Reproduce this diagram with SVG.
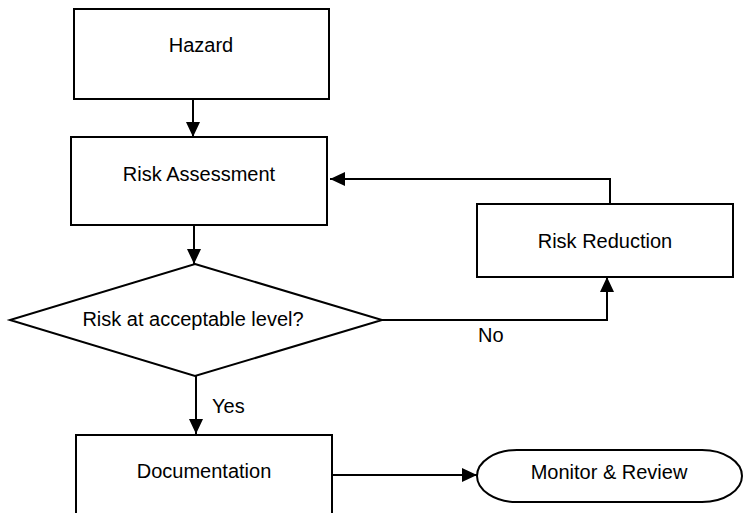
<svg xmlns="http://www.w3.org/2000/svg" width="744" height="513" viewBox="0 0 744 513">
<style>
.box{fill:#fff;stroke:#000;stroke-width:2}
.lbl{font-family:"Liberation Sans",Arial,sans-serif;font-size:20px;fill:#000;text-anchor:middle}
.edge{fill:none;stroke:#000;stroke-width:2}
.el{font-family:"Liberation Sans",Arial,sans-serif;font-size:20px;fill:#000}
</style>
<defs>
<marker id="ah" markerUnits="userSpaceOnUse" markerWidth="16" markerHeight="14" refX="15" refY="7" orient="auto">
<path d="M0,0 L15,7 L0,14 z" fill="#000"/>
</marker>
</defs>
<rect width="744" height="513" fill="#fff"/>
<g id="connectors">
<path class="edge" d="M193,99 V137" marker-end="url(#ah)"/>
<path class="edge" d="M194,225 V264" marker-end="url(#ah)"/>
<path class="edge" d="M382,320 H607 V277" marker-end="url(#ah)"/>
<path class="edge" d="M610,204 V179 H330" marker-end="url(#ah)"/>
<path class="edge" d="M196,376 V434" marker-end="url(#ah)"/>
<path class="edge" d="M332,475 H477" marker-end="url(#ah)"/>
<text class="el" x="478" y="342">No</text>
<text class="el" x="212" y="413">Yes</text>
</g>
<g id="hazard">
<rect class="box" x="74" y="9" width="255" height="90"/>
<text class="lbl" x="201" y="52">Hazard</text>
</g>
<g id="risk-assessment">
<rect class="box" x="71" y="137" width="256" height="88"/>
<text class="lbl" x="199" y="181">Risk Assessment</text>
</g>
<g id="risk-reduction">
<rect class="box" x="477" y="204" width="256" height="73"/>
<text class="lbl" x="605" y="248">Risk Reduction</text>
</g>
<g id="decision">
<polygon class="box" points="195,264 382,320 195,376 10,320"/>
<text class="lbl" x="193" y="326">Risk at acceptable level?</text>
</g>
<g id="documentation">
<rect class="box" x="76" y="435" width="256" height="100"/>
<text class="lbl" x="204" y="478">Documentation</text>
</g>
<g id="monitor-review">
<rect class="box" x="477" y="450" width="265" height="52" rx="40" ry="26"/>
<text class="lbl" x="609" y="479">Monitor &amp; Review</text>
</g>
</svg>
